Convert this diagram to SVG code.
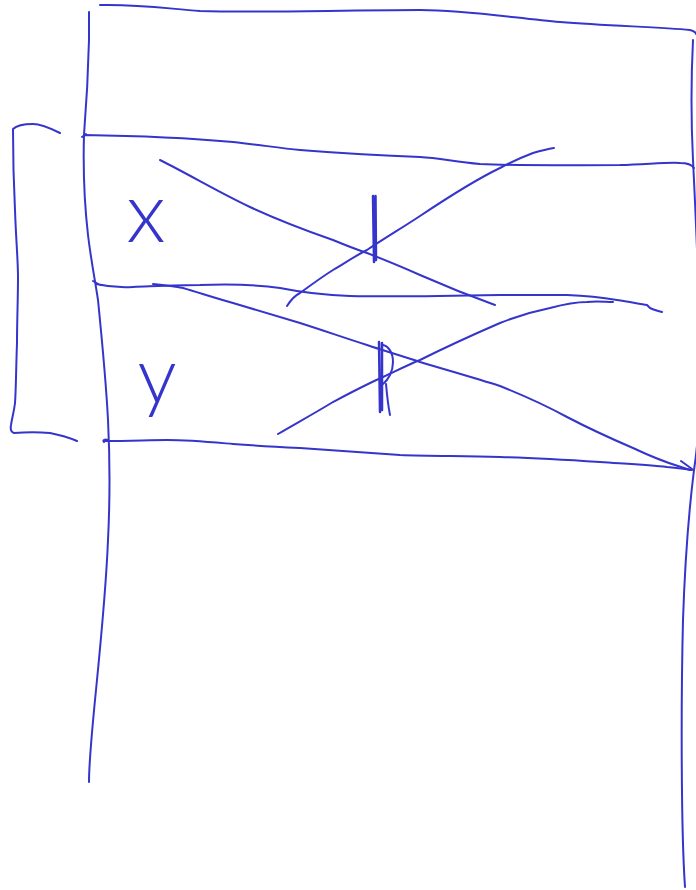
<svg xmlns="http://www.w3.org/2000/svg" width="696" height="890" viewBox="0 0 696 890">
<style>
.s{fill:none;stroke:#3535CC;stroke-width:2;stroke-linecap:round;stroke-linejoin:round}
.b{fill:none;stroke:#3535CC;stroke-width:2.5;stroke-linecap:round}
.t{fill:#3535CC;font-family:Lato,"Open Sans","Liberation Sans",sans-serif;font-weight:300;text-anchor:middle}
</style>
<rect width="696" height="890" fill="#ffffff"/>
<g id="frame">
<path class="s" d="M100,5 C140,4 170,9 200,11 C260,13 340,10 420,10 C470,10 520,19 560,22 C610,26 660,27 690,30 C694,31 696,33 696,34"/>
<path class="s" d="M89,12 L89,40 C88,80 86,110 84,135 C83,170 84,200 88,235 C91,260 95,280 98,300 C102,340 106,380 108,420 C110,460 110,500 108,540 C106,590 101,640 96,690 C92,730 89,760 89,782"/>
<path class="s" d="M693,40 C691,80 691,120 693,160 C695,200 700,300 700,380 C700,420 697,450 694,470 C689,510 685,560 683,620 C681,700 681,830 685,887"/>
</g>
<g id="bracket">
<path class="s" d="M60,133 C52,129 42,124 33,124 C24,124 16,126 13,129 C13,160 14,190 15,210 C16,240 18,260 18,277 C18,300 17,320 17,343 C16,370 16,390 15,403 C14,412 12,418 11,425 C10,430 11,432 14,433 C25,432 40,432 50,433 C60,435 70,438 77,441"/>
</g>
<g id="row-x">
<path class="s" d="M82,137 L86,134 M84,135 C150,136 200,139 233,142 C260,145 280,148 300,150 C350,154 390,156 420,157 C440,158 455,162 480,164 C520,166 570,165 620,165 C650,164 670,162 680,163 C688,163 692,165 694,168"/>
<text class="t" x="146" y="242" font-size="84">x</text>
</g>
<g id="row-y">
<path class="s" d="M93,281 L100,285 M96,284 C105,286 118,288 133,287 C160,286 180,285 200,285 C230,284 260,285 280,288 C300,292 320,295 350,296 C400,297 450,296 500,295 C530,295 550,295 567,295 C590,296 605,298 617,300 C630,302 640,304 647,305 L650,308 C654,310 658,311 662,312"/>
<path class="s" d="M104,442 C102,440 105,439 108,440 M105,441 C130,441 150,440 167,440 C190,440 210,442 233,444 C260,446 280,447 300,448 C340,451 370,453 400,455 C430,456 460,456 500,457 C540,458 570,460 600,462 C630,464 650,465 667,467 C678,468 686,469 692,470"/>
<text class="t" x="157" y="403" font-size="78">y</text>
</g>
<g id="connectors">
<path class="s" d="M160,160 C190,175 220,193 250,207 C280,221 310,232 333,240 C345,245 355,249 367,253 C385,260 400,266 420,275 C445,286 470,296 495,305"/>
<path class="s" d="M287,306 C292,298 296,295 300,293 C315,282 325,275 333,270 C345,263 355,256 367,250 C385,238 405,226 420,216 C450,196 475,180 500,168 C515,160 525,156 533,153 C540,151 548,149 554,148"/>
<path class="s" d="M153,284 C163,285 173,286 183,288 C200,293 215,298 233,303 C260,311 280,317 300,323 C325,331 345,338 367,345 C385,351 402,356 420,362 C450,371 475,378 500,386 C525,396 545,405 567,417 C590,429 612,439 633,448 C650,456 665,462 678,466 L690,470 M681,461 L692,469"/>
<path class="s" d="M278,434 C295,424 315,413 333,402 C350,393 365,385 383,377 C400,369 410,364 420,360 C440,350 470,336 500,323 C520,315 535,311 550,308 C565,304 575,302 587,302 C597,301 605,302 613,302"/>
<path class="b" d="M373,196 L374,262 M375.5,196 L376,260"/>
<path class="b" d="M379,342 L380,412 M382,343 L382,410"/>
<path class="s" d="M383,345 C388,346 393,352 393,362 C393,372 388,380 383,384 M386,384 C387,395 388,405 390,415"/>
</g>
</svg>
